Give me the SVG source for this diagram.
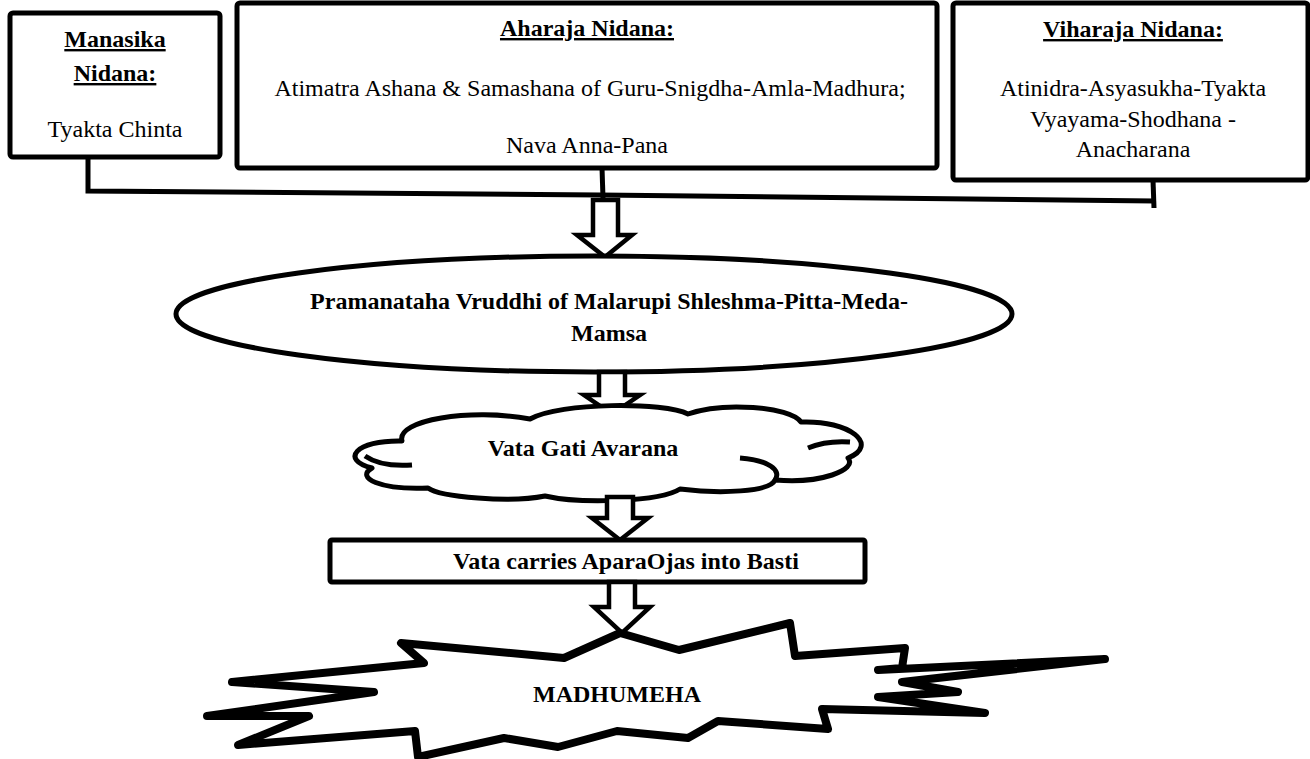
<svg xmlns="http://www.w3.org/2000/svg" width="1310" height="759" viewBox="0 0 1310 759">
<style>
  .box{fill:#fff;stroke:#000;stroke-width:5;stroke-linejoin:round}
  .shape{fill:#fff;stroke:#000;stroke-width:5;stroke-linejoin:round}
  .arrow{fill:#fff;stroke:#000;stroke-width:4.5;stroke-linejoin:miter}
  .conn{fill:none;stroke:#000;stroke-width:5}
  .t{font-family:"Liberation Serif","Times New Roman",serif;font-size:24px;fill:#000;text-anchor:middle}
  .b{font-weight:bold}
  .u{text-decoration:underline}
</style>
<rect width="1310" height="759" fill="#fff"/>
<g id="connectors">
  <polyline class="conn" points="88,157 88,191 600,195 1155,201"/>
  <line class="conn" x1="602" y1="168" x2="603" y2="198"/>
  <line class="conn" x1="1153" y1="180" x2="1154" y2="208"/>
</g>
<g id="manasika">
  <rect class="box" x="10" y="13" width="210" height="144" rx="3"/>
  <text class="t b u" x="115" y="47">Manasika</text>
  <text class="t b u" x="115" y="81">Nidana:</text>
  <text class="t" x="115" y="137">Tyakta Chinta</text>
</g>
<g id="aharaja">
  <rect class="box" x="237" y="3" width="700" height="165" rx="3"/>
  <text class="t b u" x="587" y="36">Aharaja Nidana:</text>
  <text class="t" x="590" y="96">Atimatra Ashana &amp; Samashana of Guru-Snigdha-Amla-Madhura;</text>
  <text class="t" x="587" y="153">Nava Anna-Pana</text>
</g>
<g id="viharaja">
  <rect class="box" x="953" y="3" width="355" height="177" rx="3"/>
  <text class="t b u" x="1133" y="37">Viharaja Nidana:</text>
  <text class="t" x="1133" y="96">Atinidra-Asyasukha-Tyakta</text>
  <text class="t" x="1133" y="127">Vyayama-Shodhana -</text>
  <text class="t" x="1133" y="157">Anacharana</text>
</g>
<g id="arrow1">
  <polygon class="arrow" points="593,200 618,200 618,235 632,235 605,257 577,235 593,235"/>
</g>
<g id="pramanataha">
  <ellipse class="shape" cx="594" cy="314" rx="418" ry="58"/>
  <text class="t b" x="609" y="309">Pramanataha Vruddhi of Malarupi Shleshma-Pitta-Meda-</text>
  <text class="t b" x="609" y="341">Mamsa</text>
</g>
<g id="arrow2">
  <polygon class="arrow" points="599,372 625,372 625,395 640,395 612,414 584,395 599,395"/>
</g>
<g id="vata-gati">
  <path class="shape" d="M402,441 C396,420 470,408 530,419 C560,402 665,402 688,414 C722,402 790,406 801,422 C850,420 880,445 848,458 C858,470 820,484 775,480 C770,492 720,494 680,489 C660,502 580,504 545,496 C510,503 440,497 428,488 C380,490 355,478 372,468 C340,460 355,440 402,441 Z"/>
  <path class="conn" d="M365,456 C378,465 398,466 412,465"/>
  <path class="conn" d="M808,448 C820,443 835,441 850,442"/>
  <path class="conn" d="M740,458 C768,460 782,470 775,480"/>
  <text class="t b" x="583" y="456">Vata Gati Avarana</text>
</g>
<g id="arrow3">
  <polygon class="arrow" points="607,497 633,497 633,518 648,518 620,540 592,518 607,518"/>
</g>
<g id="vata-carries">
  <rect class="box" x="330" y="540" width="535" height="42" rx="2"/>
  <text class="t b" x="626" y="569">Vata carries AparaOjas into Basti</text>
</g>
<g id="arrow4">
  <polygon class="arrow" points="609,582 635,582 635,607 650,607 622,633 594,607 609,607"/>
</g>
<g id="madhumeha">
  <polygon class="shape" style="stroke-width:8" points="620,633 679,650 790,623 795,656 905,648 902,668 878,670 1105,659 902,682 958,692 878,697 985,713 822,709 828,729 718,721 688,738 617,731 558,747 504,738 418,757 415,731 238,745 309,716 207,716 374,692 232,682 424,663 401,643 564,658"/>
  <text class="t b" x="617" y="702">MADHUMEHA</text>
</g>
</svg>
